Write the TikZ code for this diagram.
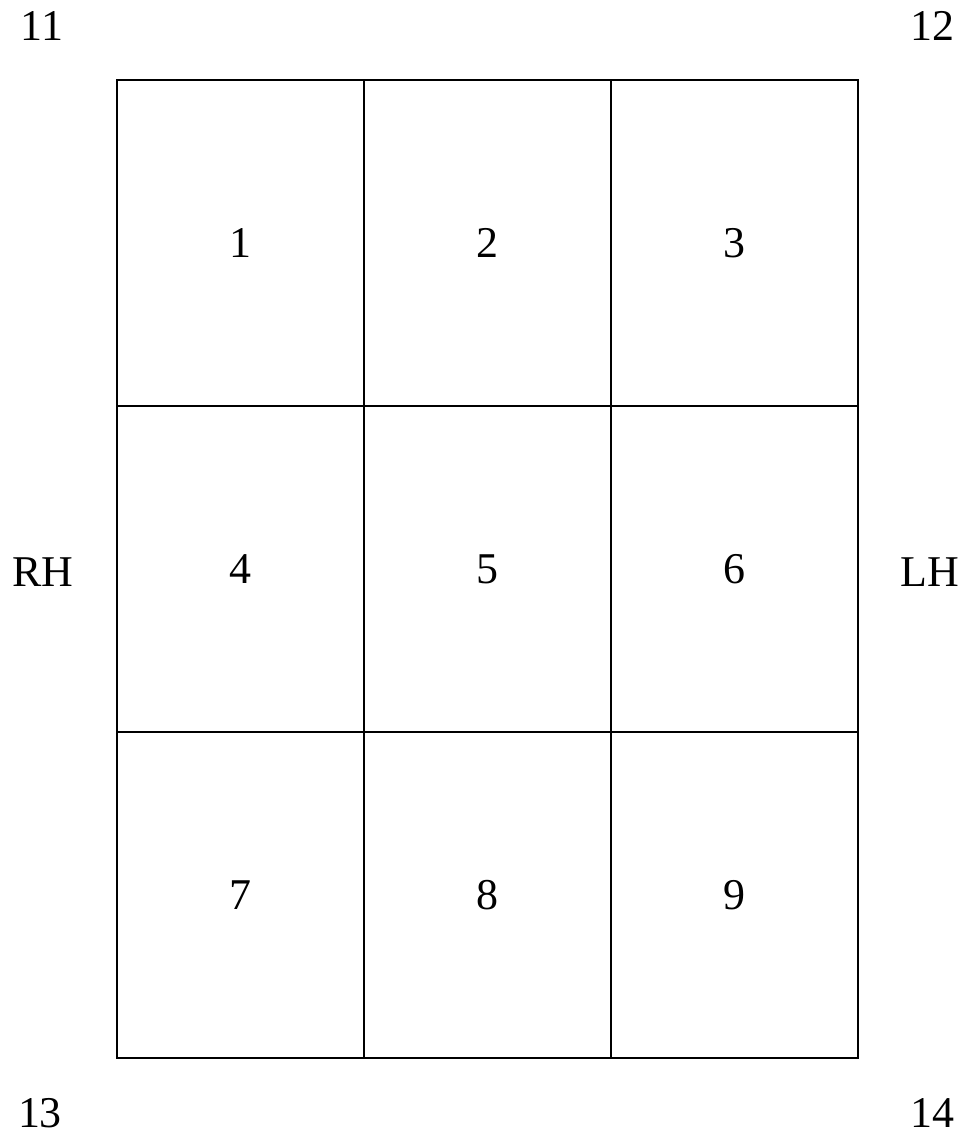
\documentclass[tikz,border=0pt]{standalone}
\usepackage{fontspec}
\setmainfont{Liberation Serif}
\usetikzlibrary{positioning}

\begin{document}
\begin{tikzpicture}[x=0.02cm,y=-0.02cm,font=\fontsize{25}{30}\selectfont,
  cell/.style={draw,line width=1.6pt,minimum width=4.94cm,minimum height=6.52cm,inner sep=0pt,outer sep=0pt}]
\useasboundingbox (0,0) rectangle (969,1138);
\foreach \r in {0,1,2}{
  \foreach \c in {1,2,3}{
    \pgfmathtruncatemacro{\k}{3*\r+\c}
    \node[cell] (c\k) at ({117+247*(\c-0.5)},{80+326*(\r+0.5)}) {\k};
  }
}
\node (n11) at (42,26) {11};
\node (n12) at (932,26) {12};
\node (rh) at (43,572) {RH};
\node (lh) at (930,572) {LH};
\node (n13) at (40,1113) {13};
\node (n14) at (932,1113) {14};
\end{tikzpicture}
\end{document}
